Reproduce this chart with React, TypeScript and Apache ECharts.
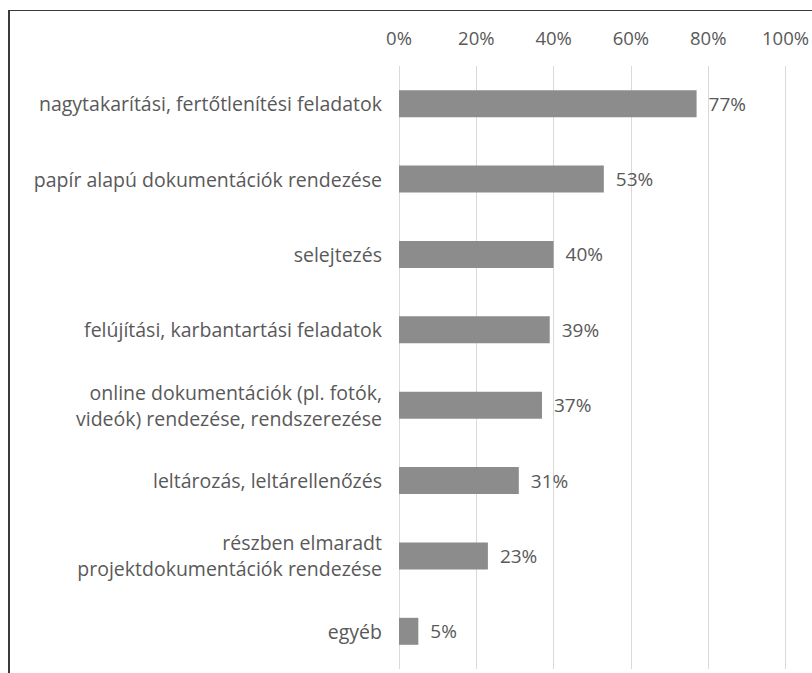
import React, { useEffect, useRef } from "react";
import * as echarts from "echarts";

const categories = [
  "nagytakarítási, fertőtlenítési feladatok",
  "papír alapú dokumentációk rendezése",
  "selejtezés",
  "felújítási, karbantartási feladatok",
  "online dokumentációk (pl. fotók,\nvideók) rendezése, rendszerezése",
  "leltározás, leltárellenőzés",
  "részben elmaradt\nprojektdokumentációk rendezése",
  "egyéb",
];
const values = [77, 53, 40, 39, 37, 31, 23, 5];
const tickMin = 0;
const tickMax = 100;
const tickStep = 20;

const FONT = "'Open Sans', sans-serif";
const TEXT = "#595959";

export default function App() {
  const ref = useRef<HTMLDivElement>(null);
  useEffect(() => {
    if (!ref.current) return;
    const chart = echarts.init(ref.current, undefined, { renderer: "svg" });
    chart.setOption({
      animation: false,
      backgroundColor: "#ffffff",
      textStyle: { fontFamily: FONT },
      grid: { left: 399, right: 23, top: 66, bottom: 4, containLabel: false },
      xAxis: {
        type: "value",
        position: "top",
        min: tickMin,
        max: tickMax,
        interval: tickStep,
        axisLine: { show: false },
        axisTick: { show: false },
        axisLabel: {
          formatter: "{value}%",
          color: TEXT,
          fontSize: 18.5,
          fontFamily: FONT,
          margin: 19,
        },
        splitLine: { show: true, lineStyle: { color: "#d9d9d9", width: 1 } },
      },
      yAxis: {
        type: "category",
        data: categories,
        inverse: true,
        axisLine: { show: false },
        axisTick: { show: false },
        axisLabel: {
          color: TEXT,
          fontSize: 19.5,
          fontFamily: FONT,
          margin: 17,
          lineHeight: 26,
          align: "right",
        },
      },
      series: [
        {
          type: "bar",
          data: values,
          barWidth: 27,
          itemStyle: { color: "#8c8c8c" },
          label: {
            show: true,
            position: "right",
            distance: 12,
            formatter: "{c}%",
            color: TEXT,
            fontSize: 19,
            fontFamily: FONT,
          },
        },
      ],
      graphic: [
        {
          type: "line",
          shape: { x1: 8, y1: 10.5, x2: 812, y2: 10.5 },
          style: { stroke: "#3a3a3a", lineWidth: 1 },
        },
        {
          type: "line",
          shape: { x1: 9, y1: 10, x2: 9, y2: 673 },
          style: { stroke: "#3a3a3a", lineWidth: 2 },
        },
      ],
    });
    return () => chart.dispose();
  }, []);
  return (
    <div
      ref={ref}
      style={{ position: "fixed", left: 0, top: 0, width: 812, height: 673 }}
    />
  );
}
